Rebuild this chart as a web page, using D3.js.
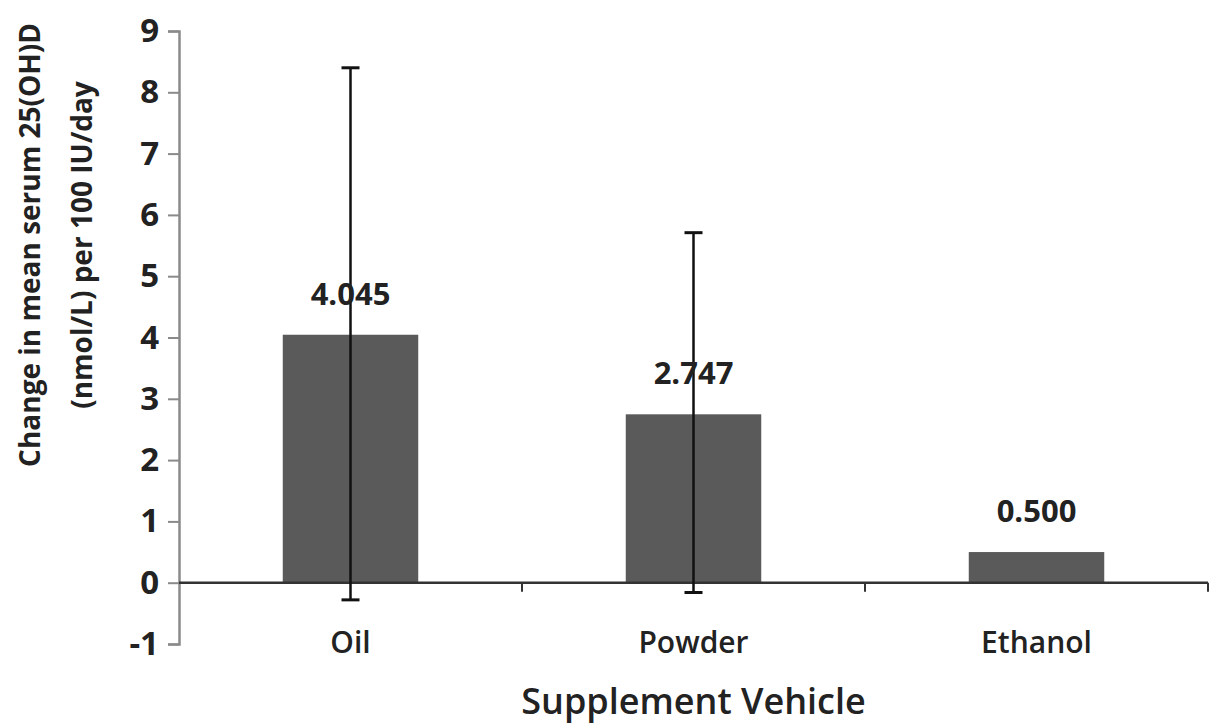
<!DOCTYPE html>
<html>
<head>
<meta charset="utf-8">
<script src="https://cdn.jsdelivr.net/npm/d3@7"></script>
<style>
  html, body { margin: 0; padding: 0; background: #fff; }
  svg { display: block; }
  text { font-family: "Open Sans", sans-serif; fill: #222; }
</style>
</head>
<body>
<svg id="chart" width="1211" height="725"></svg>
<script>
const categories = ["Oil", "Powder", "Ethanol"];
const values = [4.045, 2.747, 0.500];
const valueLabels = ["4.045", "2.747", "0.500"];
const errUpper = [8.4, 5.71, null];
const errLower = [-0.28, -0.16, null];
const yTicks = [-1, 0, 1, 2, 3, 4, 5, 6, 7, 8, 9];
const yTitleLines = ["Change in mean serum 25(OH)D", "(nmol/L) per 100 IU/day"];
const xTitle = "Supplement Vehicle";

(function () {
const svg = d3.select("#chart");
const mLeft = 179, mRight = 1208, mTop = 31, mBottom = 644;

const x = d3.scaleBand().domain(categories).range([mLeft, mRight]).paddingInner(0).paddingOuter(0);
const y = d3.scaleLinear().domain([-1, 9]).range([mBottom, mTop]);

const barW = x.bandwidth() * 0.395;

// y axis
const yAxis = d3.axisLeft(y).tickValues(yTicks).tickSize(11).tickPadding(9).tickFormat(d => String(d));
const gy = svg.append("g").attr("transform", `translate(${mLeft},0)`).call(yAxis);
gy.select(".domain").attr("stroke", "#8a8a8a").attr("stroke-width", 2.5);
gy.selectAll(".tick line").attr("stroke", "#8a8a8a").attr("stroke-width", 2);
gy.selectAll(".tick text").attr("font-size", 33).attr("font-weight", 700).attr("fill", "#222")
  .attr("font-family", "'Open Sans', sans-serif");

// bars
svg.selectAll("rect.bar").data(categories).join("rect")
  .attr("class", "bar")
  .attr("x", d => x(d) + x.bandwidth() / 2 - barW / 2)
  .attr("width", barW)
  .attr("y", (d, i) => y(values[i]))
  .attr("height", (d, i) => y(0) - y(values[i]))
  .attr("fill", "#5a5a5a");

// x axis at zero
const xAxisG = svg.append("g").attr("transform", `translate(0,${y(0)})`);
xAxisG.append("line").attr("x1", mLeft).attr("x2", mRight).attr("y1", 0).attr("y2", 0)
  .attr("stroke", "#333").attr("stroke-width", 2.5);
const bounds = [x(categories[1]), x(categories[2]), mRight];
xAxisG.selectAll("line.xt").data(bounds).join("line").attr("class", "xt")
  .attr("x1", d => d).attr("x2", d => d).attr("y1", 0).attr("y2", 9)
  .attr("stroke", "#333").attr("stroke-width", 2);

// error bars
const capW = 18;
categories.forEach((c, i) => {
  if (errUpper[i] == null) return;
  const cx = x(c) + x.bandwidth() / 2;
  svg.append("line").attr("x1", cx).attr("x2", cx).attr("y1", y(errUpper[i])).attr("y2", y(errLower[i]))
    .attr("stroke", "#111").attr("stroke-width", 2.5);
  [errUpper[i], errLower[i]].forEach(v => {
    svg.append("line").attr("x1", cx - capW / 2).attr("x2", cx + capW / 2).attr("y1", y(v)).attr("y2", y(v))
      .attr("stroke", "#111").attr("stroke-width", 3);
  });
});

// value labels
svg.selectAll("text.val").data(categories).join("text")
  .attr("class", "val")
  .attr("x", d => x(d) + x.bandwidth() / 2)
  .attr("y", (d, i) => y(values[i]) - 30)
  .attr("text-anchor", "middle")
  .attr("font-size", 31).attr("font-weight", 700)
  .text((d, i) => valueLabels[i]);

// category labels
svg.selectAll("text.cat").data(categories).join("text")
  .attr("class", "cat")
  .attr("x", d => x(d) + x.bandwidth() / 2)
  .attr("y", 653)
  .attr("text-anchor", "middle")
  .attr("font-size", 30).attr("font-weight", 600)
  .text(d => d);

// x title
svg.append("text").attr("x", (mLeft + mRight) / 2).attr("y", 714)
  .attr("text-anchor", "middle").attr("font-size", 36).attr("font-weight", 600)
  .text(xTitle);

// y title
const yt = svg.append("text").attr("transform", "translate(0,245) rotate(-90)")
  .attr("text-anchor", "middle").attr("font-size", 28).attr("font-weight", 700)
  .attr("font-family", "Lato, sans-serif");
yTitleLines.forEach((l, i) => {
  yt.append("tspan").attr("x", 0).attr("y", 40 + i * 52).text(l);
});
})();
</script>
</body>
</html>
